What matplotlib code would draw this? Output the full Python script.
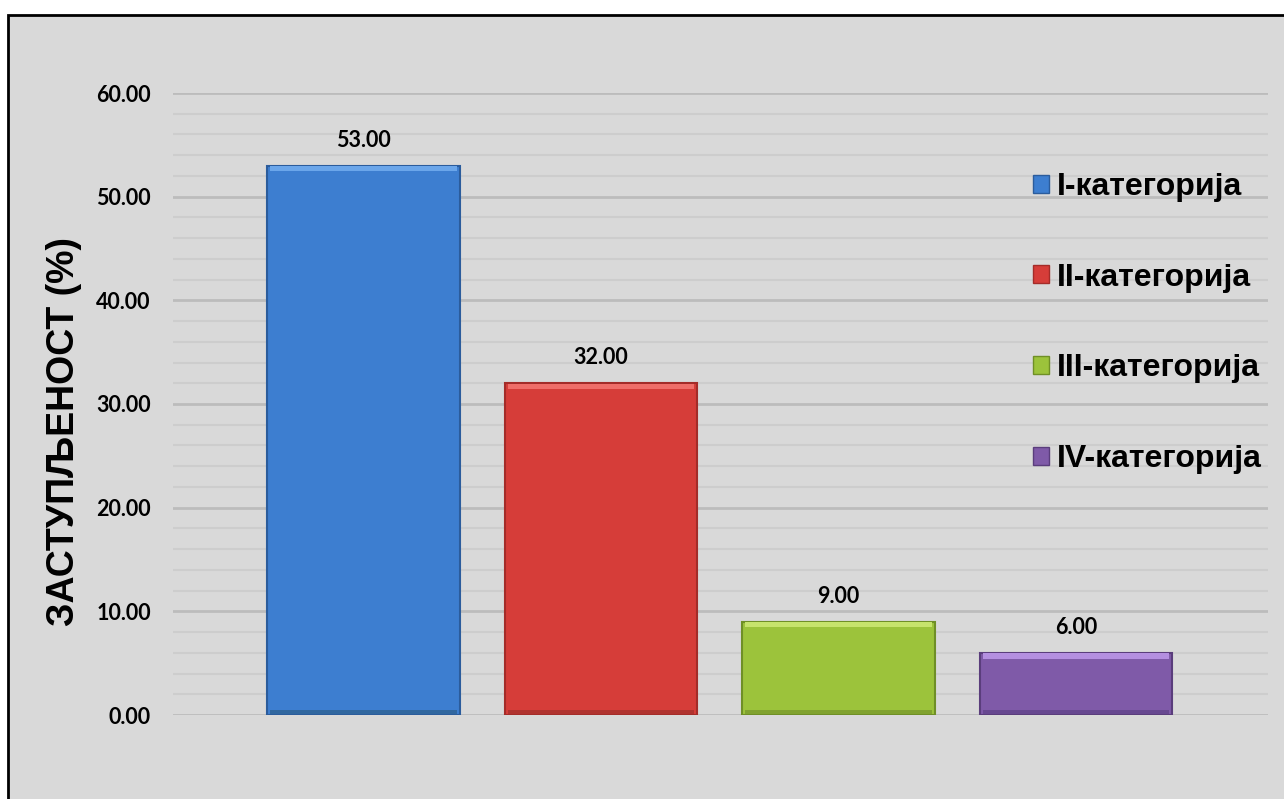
import matplotlib.pyplot as plt
from matplotlib.patches import Patch, Rectangle
from matplotlib.ticker import MultipleLocator, FormatStrFormatter

categories = ['I-категорија', 'II-категорија', 'III-категорија', 'IV-категорија']
values = [53.00, 32.00, 9.00, 6.00]
colors = ['#3d7ed0', '#d63d39', '#9cc33b', '#7f5aa8']
edges = ['#2b5c9c', '#a42c29', '#6f8f26', '#5a3d7c']
lights = ['#6ba6ea', '#ef6e69', '#c6e36c', '#b48fe0']
darks = ['#31679f', '#b0332f', '#80a22f', '#674890']

fig = plt.figure(figsize=(12.84, 7.99), dpi=100, facecolor='white')

# chart area background with black frame (top/left visible)
fig.patches.append(Rectangle((8 / 1284, -0.05), 1.1, 1 - 15 / 799 + 0.05,
                             transform=fig.transFigure, facecolor='#d9d9d9',
                             edgecolor='black', linewidth=2, zorder=-5))

ax = fig.add_axes([173 / 1284, 84 / 799, 1095 / 1284, 622 / 799])
ax.set_facecolor('none')

x = list(range(len(values)))
w = 0.81
ax.bar(x, values, width=w, color=colors, edgecolor=edges, linewidth=1.5, zorder=3)
# bevel: light strip on top, darker strip at the bottom
ax.bar(x, [0.5] * len(values), bottom=[v - 0.55 for v in values], width=w * 0.97,
       color=lights, linewidth=0, zorder=4)
ax.bar(x, [0.45] * len(values), bottom=0.08, width=w * 0.97,
       color=darks, linewidth=0, zorder=4)

for xi, v in zip(x, values):
    ax.annotate(f'{v:.2f}', (xi, v), xytext=(0, 19), textcoords='offset pixels',
                ha='center', va='baseline', fontsize=15.5, fontweight='bold',
                family='Lato', color='black')

ax.set_ylim(0, 60)
ax.set_xlim(-0.802, 3.808)
ax.yaxis.set_major_locator(MultipleLocator(10))
ax.yaxis.set_minor_locator(MultipleLocator(2))
ax.yaxis.set_major_formatter(FormatStrFormatter('%.2f'))
ax.grid(axis='y', which='major', color='#bcbcbc', linewidth=2, zorder=1)
ax.grid(axis='y', which='minor', color='#cdcdcd', linewidth=1.5, zorder=1)
ax.set_axisbelow(True)
ax.set_xticks([])
ax.tick_params(axis='y', which='both', length=0, pad=16)
for lab in ax.get_yticklabels():
    lab.set_fontfamily('Lato')
    lab.set_fontweight('bold')
    lab.set_fontsize(15.5)
for s in ax.spines.values():
    s.set_visible(False)

fig.text(64 / 1284, 1 - 432 / 799, 'ЗАСТУПЉЕНОСТ (%)', rotation=90,
         ha='center', va='center', fontsize=27, fontweight='bold',
         family='Liberation Sans')

handles = [Patch(facecolor=c, edgecolor=e, linewidth=1) for c, e in zip(colors, edges)]
leg = fig.legend(handles, categories, loc='upper left',
                 bbox_to_anchor=(1033 / 1284, 1 - 172 / 799),
                 bbox_transform=fig.transFigure, frameon=False,
                 borderpad=0, borderaxespad=0, handlelength=0.5, handleheight=0.5,
                 handletextpad=0.25, labelspacing=1.9,
                 prop={'family': 'Liberation Sans', 'weight': 'bold', 'size': 23})

fig.savefig('out.png', dpi=100, facecolor='white')
